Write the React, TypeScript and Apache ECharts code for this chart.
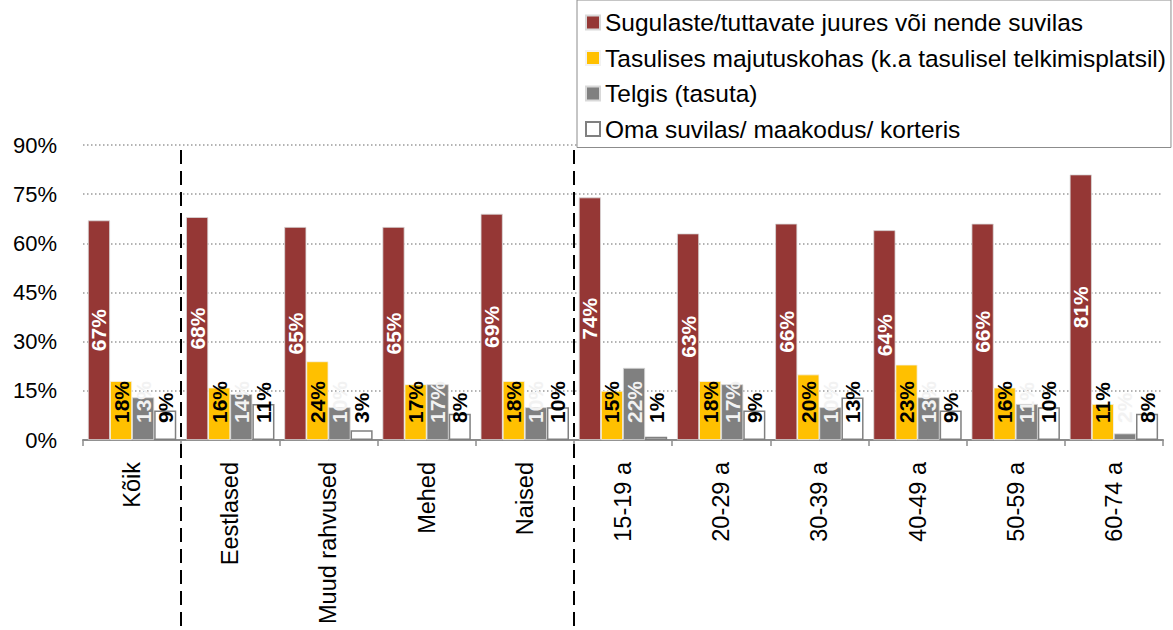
import React, { useEffect, useRef } from "react";
import * as echarts from "echarts";

const categories = [
  "Kõik",
  "Eestlased",
  "Muud rahvused",
  "Mehed",
  "Naised",
  "15-19 a",
  "20-29 a",
  "30-39 a",
  "40-49 a",
  "50-59 a",
  "60-74 a",
];
const seriesNames = [
  "Sugulaste/tuttavate juures või nende suvilas",
  "Tasulises majutuskohas (k.a tasulisel telkimisplatsil)",
  "Telgis (tasuta)",
  "Oma suvilas/ maakodus/ korteris",
];
const relatives = [67, 68, 65, 65, 69, 74, 63, 66, 64, 66, 81];
const paidPlace = [18, 16, 24, 17, 18, 15, 18, 20, 23, 16, 11];
const tentFree = [13, 14, 10, 17, 10, 22, 17, 10, 13, 11, 2];
const ownPlace = [9, 11, 3, 8, 10, 1, 9, 13, 9, 10, 8];
const yMin = 0;
const yMax = 90;
const yStep = 15;
// separators drawn after these category indices
const separatorsAfter = [0, 4];

const FONT = "'Liberation Sans', Arial, sans-serif";

export default function App() {
  const ref = useRef<HTMLDivElement>(null);
  useEffect(() => {
    if (!ref.current) return;
    const chart = echarts.init(ref.current, null, { renderer: "svg" });
    const smallLabel = (color: string) => ({
      show: true,
      position: "insideBottom",
      distance: 17,
      rotate: 90,
      align: "left",
      verticalAlign: "middle",
      color,
      fontFamily: FONT,
      fontWeight: "bold",
      fontSize: 21,
      formatter: "{c}%",
    });
    chart.setOption({
      animation: false,
      backgroundColor: "#ffffff",
      grid: { left: 83, right: 10, top: 145, bottom: 190, containLabel: false },
      legend: {
        orient: "vertical",
        left: 577,
        top: 0,
        padding: [10, 5, 6, 8],
        itemGap: 10.5,
        itemWidth: 14,
        itemHeight: 14,
        icon: "rect",
        borderColor: "#8c8c8c",
        borderWidth: 1,
        backgroundColor: "#ffffff",
        textStyle: { fontFamily: FONT, fontSize: 24.5, color: "#000" },
        data: seriesNames,
      },
      xAxis: {
        type: "category",
        data: categories,
        axisLine: { lineStyle: { color: "#8c8c8c", width: 2 } },
        axisTick: { show: true, length: 6, lineStyle: { color: "#8c8c8c", width: 1.5 } },
        axisLabel: {
          rotate: 90,
          interval: 0,
          margin: 22,
          color: "#000",
          fontFamily: FONT,
          fontSize: 23.5,
        },
      },
      yAxis: {
        type: "value",
        min: yMin,
        max: yMax,
        interval: yStep,
        axisLine: { show: false },
        axisTick: { show: false },
        axisLabel: {
          formatter: "{value}%",
          color: "#000",
          fontFamily: FONT,
          fontSize: 22,
          margin: 26,
        },
        splitLine: {
          lineStyle: { color: "#9a9a9a", width: 1.5, type: [1.5, 2.5] },
        },
      },
      series: [
        {
          name: seriesNames[0],
          type: "bar",
          data: relatives,
          barGap: "0%",
          barCategoryGap: "10%",
          itemStyle: { color: "#953735", borderColor: "#d9d9d9", borderWidth: 0.8 },
          label: {
            show: true,
            position: "inside",
            rotate: 90,
            color: "#ffffff",
            fontFamily: FONT,
            fontWeight: "bold",
            fontSize: 21,
            formatter: "{c}%",
          },
        },
        {
          name: seriesNames[1],
          type: "bar",
          data: paidPlace,
          barGap: "0%",
          barCategoryGap: "10%",
          itemStyle: { color: "#FFC000", borderColor: "#f2f2f2", borderWidth: 0.8 },
          label: smallLabel("#000000"),
        },
        {
          name: seriesNames[2],
          type: "bar",
          data: tentFree,
          barGap: "0%",
          barCategoryGap: "10%",
          itemStyle: { color: "#808080", borderColor: "#d9d9d9", borderWidth: 0.8 },
          label: smallLabel("#f2f2f2"),
        },
        {
          name: seriesNames[3],
          type: "bar",
          data: ownPlace,
          barGap: "0%",
          barCategoryGap: "10%",
          itemStyle: { color: "#ffffff", borderColor: "#808080", borderWidth: 1.5 },
          label: smallLabel("#000000"),
        },
      ],
    });

    const graphics = separatorsAfter.map((i) => {
      const a = chart.convertToPixel({ xAxisIndex: 0 }, categories[i]) as number;
      const b = chart.convertToPixel({ xAxisIndex: 0 }, categories[i + 1]) as number;
      const x = Math.round((a + b) / 2);
      return {
        type: "line",
        shape: { x1: x, y1: 150, x2: x, y2: 630 },
        style: { stroke: "#000", lineWidth: 2, lineDash: [14, 7] },
        z: 10,
      };
    });
    chart.setOption({ graphic: graphics });

    return () => chart.dispose();
  }, []);
  return (
    <div
      ref={ref}
      style={{ position: "absolute", left: 0, top: 0, width: 1173, height: 630 }}
    />
  );
}
